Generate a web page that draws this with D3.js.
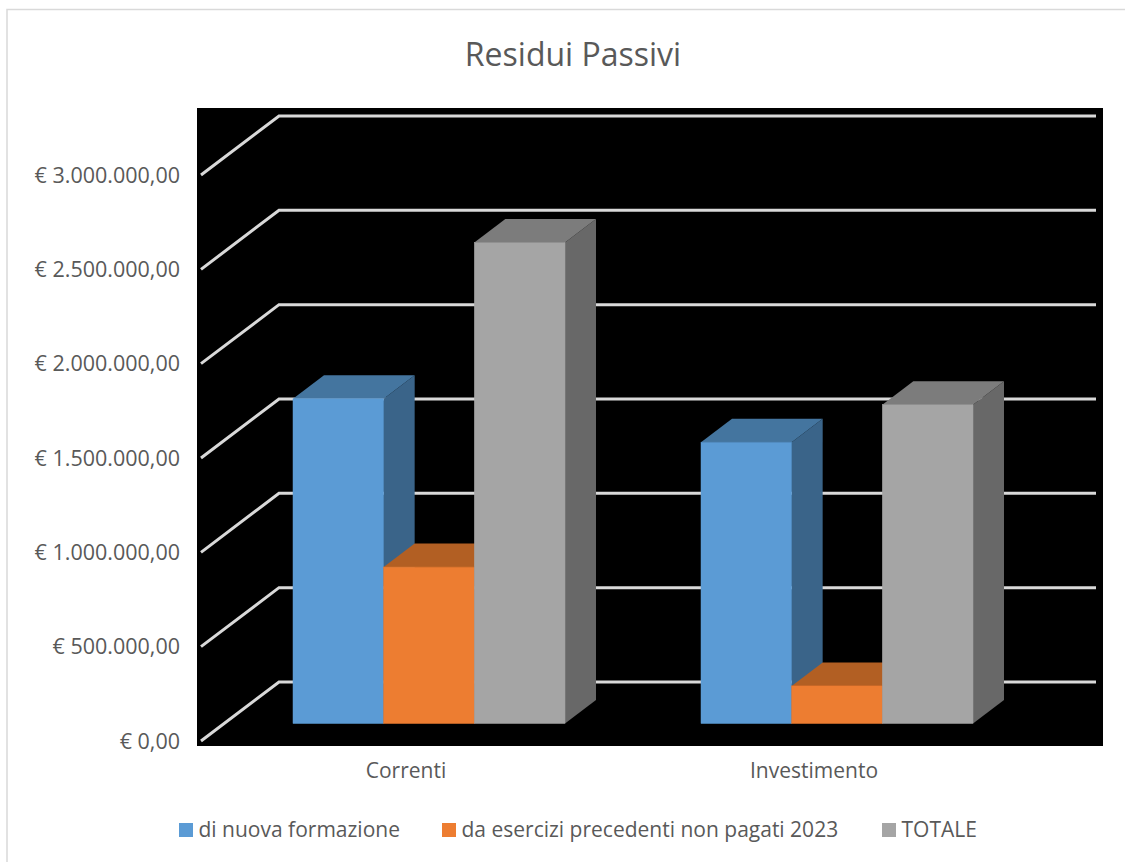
<!DOCTYPE html>
<html>
<head>
<meta charset="utf-8">
<script src="https://cdn.jsdelivr.net/npm/d3@7"></script>
<style>
  html, body { margin: 0; padding: 0; background: #fff; }
  svg { display: block; }
  text { font-family: "Open Sans", sans-serif; fill: #595959; }
</style>
</head>
<body>
<svg id="chart" width="1125" height="862"></svg>
<script>
const categories = ["Correnti", "Investimento"]
const seriesNames = ["di nuova formazione", "da esercizi precedenti non pagati 2023", "TOTALE"]
const nuovaFormazione = [1721000, 1491000]
const eserciziPrecedenti = [829000, 199000]
const totale = [2550000, 1690000]
const tickValues = [0, 500000, 1000000, 1500000, 2000000, 2500000, 3000000]

const seriesValues = [nuovaFormazione, eserciziPrecedenti, totale]
const faceColors = ["#5b9bd5", "#ed7d31", "#a5a5a5"]
const topColors = ["#44759f", "#b25f23", "#7c7c7c"]
const sideColors = ["#3a6489", "#9c5220", "#686868"]

let svg = d3.select("#chart")

// y is the front plane of the walls, bars sit part way into the depth
let y = d3.scaleLinear().domain([0, 3000000]).range([741, 175])
let x = d3.scaleBand().domain(categories).range([225, 1041]).paddingInner(1 / 3).paddingOuter(1 / 6)
let xInner = d3.scaleBand().domain(d3.range(seriesNames.length)).range([0, x.bandwidth()])

const wallDepth = { dx: 78, dy: -59 }
const barDepth = { dx: 31, dy: -23.5 }
const barInset = -17.5 // floor of the bars vs front edge of the wall

function tickLabel(v) {
  return "€ " + d3.format(",.2f")(v).replace(/,/g, "#").replace(".", ",").replace(/#/g, ".")
}

// the frame only shows on the top and left, the crop cuts off the rest
svg.append("path")
  .attr("d", "M7,862V9.5H1125")
  .style("fill", "none")
  .style("stroke", "#d9d9d9")
  .style("stroke-width", 1.5)

svg.append("rect")
  .attr("x", 197).attr("y", 108)
  .attr("width", 906).attr("height", 638)
  .style("fill", "#000")

svg.append("text")
  .attr("x", 573).attr("y", 66)
  .attr("text-anchor", "middle")
  .style("font-size", "32px")
  .text("Residui Passivi")

// gridlines
let grid = svg.append("g").selectAll("g").data(tickValues).enter().append("g")

grid.append("path")
  .attr("d", d => {
    let x0 = 201, y0 = y(d)
    return `M${x0},${y0}L${x0 + wallDepth.dx},${y0 + wallDepth.dy}L1096,${y0 + wallDepth.dy}`
  })
  .style("fill", "none")
  .style("stroke", "#d9d9d9")
  .style("stroke-width", 3)

grid.append("text")
  .attr("x", 180)
  .attr("y", d => y(d) + 7.5)
  .attr("text-anchor", "end")
  .style("font-size", "21.5px")
  .text(tickLabel)

// bars, one group per category, series drawn left to right so they overlap like the 3d original
let groups = svg.append("g").selectAll("g").data(categories).enter().append("g")
  .attr("transform", c => `translate(${x(c)},0)`)

seriesValues.forEach(function (values, s) {
  let w = xInner.bandwidth()
  let bar = groups.append("g").attr("transform", `translate(${xInner(s)},0)`)
  let base = y(0) + barInset

  bar.append("path")
    .attr("d", (c, i) => {
      let top = y(values[i]) + barInset
      return `M${w},${top}L${w + barDepth.dx},${top + barDepth.dy}L${w + barDepth.dx},${base + barDepth.dy}L${w},${base}Z`
    })
    .style("fill", sideColors[s])

  bar.append("path")
    .attr("d", (c, i) => {
      let top = y(values[i]) + barInset
      return `M0,${top}L${barDepth.dx},${top + barDepth.dy}L${w + barDepth.dx},${top + barDepth.dy}L${w},${top}Z`
    })
    .style("fill", topColors[s])

  bar.append("rect")
    .attr("x", 0)
    .attr("y", (c, i) => y(values[i]) + barInset)
    .attr("width", w)
    .attr("height", (c, i) => y(0) - y(values[i]))
    .style("fill", faceColors[s])
    .style("stroke", faceColors[s])
    .style("stroke-width", 0.5)
})

// category labels sit left of the bars' centre because of the perspective
svg.append("g").selectAll("text").data(categories).enter().append("text")
  .attr("x", c => x(c) + x.bandwidth() / 2 - 23)
  .attr("y", 778)
  .attr("text-anchor", "middle")
  .style("font-size", "21px")
  .text(c => c)

// legend
const legendX = [179, 442, 882]
let legend = svg.append("g").selectAll("g").data(seriesNames).enter().append("g")
  .attr("transform", (d, i) => `translate(${legendX[i]},823)`)

legend.append("rect")
  .attr("width", 14).attr("height", 14)
  .style("fill", (d, i) => faceColors[i])

legend.append("text")
  .attr("x", 19.5).attr("y", 13.5)
  .style("font-size", "21px")
  .text(d => d)
</script>
</body>
</html>
